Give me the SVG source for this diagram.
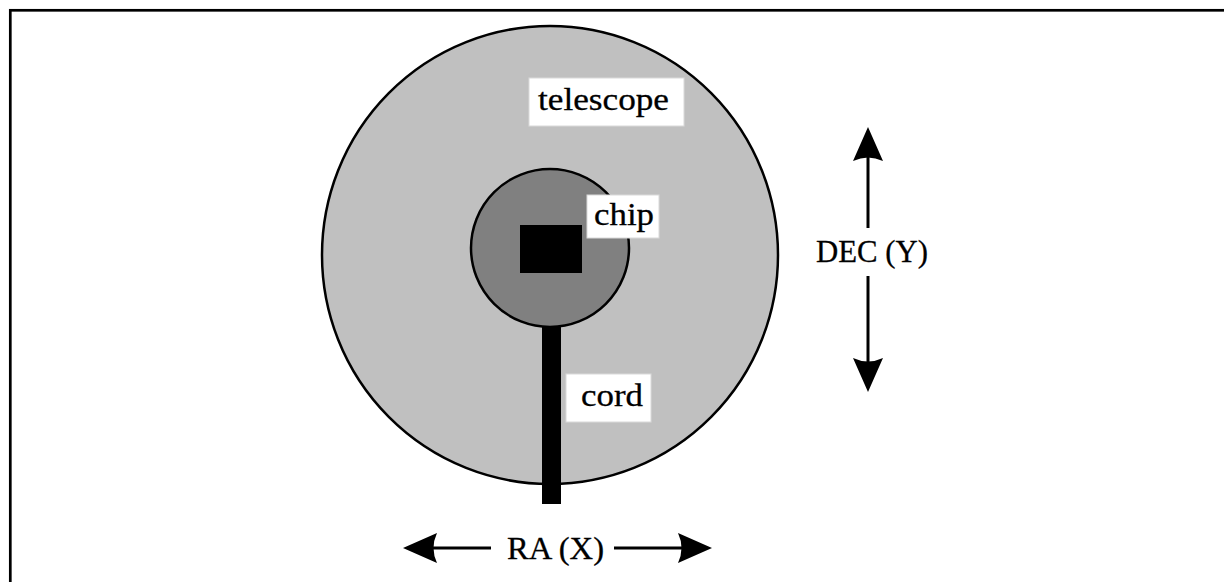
<svg xmlns="http://www.w3.org/2000/svg" width="1224" height="582" viewBox="0 0 1224 582">
<style>
.lbl{font-family:"Liberation Serif","Times New Roman",serif;font-size:32px;fill:#000;stroke:#000;stroke-width:0.3}
.box{fill:#fff;stroke:#d9d9d9;stroke-width:1}
.ln{stroke:#000;stroke-width:3;fill:none}
.head{fill:#000}
</style>
<rect width="1224" height="582" fill="#fff"/>
<rect x="10.3" y="10.3" width="1230" height="600" fill="none" stroke="#000" stroke-width="2.7"/>
<g id="telescope">
<ellipse cx="550" cy="255" rx="228" ry="229" fill="#c0c0c0" stroke="#000" stroke-width="2.5"/>
<rect class="box" x="529" y="78" width="155" height="48"/>
<text class="lbl" x="538" y="110" textLength="131" lengthAdjust="spacingAndGlyphs">telescope</text>
</g>
<g id="cord">
<rect x="542" y="320" width="19" height="184" fill="#000"/>
<rect class="box" x="566" y="374" width="85" height="48"/>
<text class="lbl" x="581" y="406" textLength="62" lengthAdjust="spacingAndGlyphs">cord</text>
</g>
<g id="chip">
<circle cx="550" cy="248" r="79" fill="#808080" stroke="#000" stroke-width="2.5"/>
<rect x="520" y="225" width="62" height="48" fill="#000"/>
<rect class="box" x="587" y="195" width="72" height="43"/>
<text class="lbl" x="594" y="225" textLength="60" lengthAdjust="spacingAndGlyphs">chip</text>
</g>
<g id="connectors">
<line class="ln" x1="868" y1="156" x2="868" y2="228"/>
<path class="head" d="M868,127 L883,161 Q868,154 853,161 Z"/>
<line class="ln" x1="868" y1="276" x2="868" y2="364"/>
<path class="head" d="M868,392 L883,358 Q868,365 853,358 Z"/>
<line class="ln" x1="433" y1="548" x2="491" y2="548"/>
<path class="head" d="M403,548 L437,533 Q430,548 437,563 Z"/>
<line class="ln" x1="614" y1="548" x2="682" y2="548"/>
<path class="head" d="M712,548 L678,533 Q685,548 678,563 Z"/>
</g>
<g id="dec">
<text class="lbl" x="816" y="262" textLength="112" lengthAdjust="spacingAndGlyphs">DEC (Y)</text>
</g>
<g id="ra">
<text class="lbl" x="507" y="559" textLength="97" lengthAdjust="spacingAndGlyphs">RA (X)</text>
</g>
</svg>
